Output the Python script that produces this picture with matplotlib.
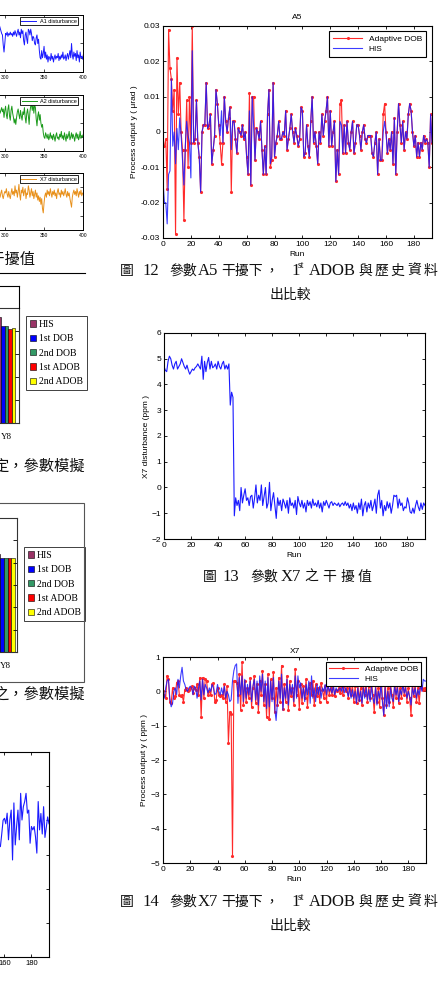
import numpy as np
import matplotlib
matplotlib.use('Agg')
import matplotlib.pyplot as plt
from matplotlib.lines import Line2D
from matplotlib.patches import Patch, Rectangle

plt.rcParams['font.family'] = ['Liberation Sans', 'Noto Sans CJK TC']
SERIF = ['Liberation Serif', 'Noto Sans CJK TC']

# ---- data -------------------------------------------------------------
# Fig 12: A5 disturbance, process output (x1e-3 urad)
a5_adob = [
    -4, -4, -2, -16, 29, 18, 15, 6, 12, -29,
    21, 5, 14, 0, -5, -25, -5, 9, -10, 10,
    -3, 30, -3, -2, 9, -3, -7, -17, 0, 2,
    2, 14, 1, 2, 5, -9, -5, -1, 12, 8,
    2, -3, -9, -3, 10, 3, 0, 4, 7, -17,
    3, 3, -2, -6, 1, 0, -1, 2, -2, 0,
    -7, -12, 11, -15, 10, 10, -8, 1, 0, -2,
    3, -5, -12, -4, -12, 5, 12, -10, -8, 14,
    -7, -3, -1, 3, -2, -2, 0, -1, 6, -5,
    -2, 1, 5, 0, -3, 1, -1, -4, -2, 7,
    6, -7, -6, 2, -4, -7, 3, 10, -3, 0,
    -4, -9, 0, -3, 5, -1, 3, 6, 10, -4,
    6, -4, 0, 3, -14, -5, -12, 8, 9, -6,
    2, -6, 3, -3, -5, 0, 3, -6, -3, 2,
    2, -1, -5, 0, 2, -2, -3, -1, -1, -1,
    -6, -7, -3, 0, -12, -2, -8, -8, 5, 8,
    0, -6, -2, -5, 0, -9, 4, -12, 0, 8,
    2, -3, 3, -5, 0, -2, 5, 8, 6, 0,
    -4, -1, -7, -3, -7, -3, -5, -1, -3, -2,
    -3, -10, 5, -3]
a5_his = [
    -14, -20, -20, -26, -12, -11, 15, -4, 0, -9,
    1, -5, 4, -1, -8, -15, -4, 3, -1, -3,
    -13, 23, -3, -2, 9, -3, -7, -17, 0, 2,
    2, 14, 1, 2, 5, -9, -5, -1, 12, 8,
    2, -1, 6, -3, 10, 3, 0, 4, 7, -5,
    3, 3, -2, -6, 1, 0, -1, 2, -2, 0,
    -7, -12, 6, -15, 10, 2, -8, 1, 0, -2,
    3, -5, -12, -4, -12, 5, 12, -9, -7, 14,
    -7, -3, -1, 3, -2, -2, 0, -1, 6, -5,
    -2, 1, 5, 0, -3, 1, -1, -4, -2, 7,
    6, -7, -6, 2, -4, -7, 3, 10, -3, 0,
    -4, -9, 0, -3, 5, -1, 3, 6, 10, -4,
    6, -4, 0, 3, -14, -5, -12, 3, 2, -6,
    2, -6, 3, -3, -5, 0, 3, -6, -3, 2,
    2, -1, -5, 0, 2, -2, -3, -1, -1, -1,
    -6, -7, -3, 0, -12, -2, -8, -8, 0, 3,
    0, -6, -2, -5, 0, -9, 4, -12, 0, 8,
    2, -3, 3, -5, 0, -2, 5, 8, 6, 0,
    -4, -1, -7, -3, -7, -3, -5, -1, -3, -2,
    -3, -10, 5, -3]

# Fig 13: X7 disturbance (ppm)
x7_dist = [
    4.7, 4.55, 4.5, 4.9, 5.1, 5.0, 4.75, 4.6, 4.8, 4.9,
    4.6, 4.7, 4.8, 5.0, 4.85, 4.7, 4.6, 4.75, 4.55, 4.4,
    4.5, 4.6, 4.55, 4.65, 4.7, 4.8, 4.7, 4.6, 5.1, 4.2,
    4.9, 4.5, 4.85, 5.05, 4.6, 4.9, 4.65, 4.7, 4.8, 4.6,
    4.9, 4.7, 4.6, 4.8, 4.9, 4.6, 4.75, 4.6, 4.8, 3.2,
    3.7, 3.5, -1.1, -0.4, -0.7, -0.5, -0.9, 0.0, -0.6, -0.3,
    -0.05, -0.5, -0.4, -0.7, -0.35, -0.3, -0.8, -0.4, 0.1, -0.6,
    -0.3, -0.5, 0.1, -0.7, -0.35, 0.0, -0.8, -0.6, 0.2, -0.9,
    -0.5, -0.2, -0.7, -1.2, -0.4, -0.7, -0.5, -0.9, -0.45, -0.6,
    -0.8, -0.5, -1.0, -0.4, -0.7, -0.6, -0.8, -0.5, -1.05, -0.35,
    -0.6, -0.75, -0.5, -0.8, -0.6, -0.95, -0.5, -0.7, -0.55, -0.8,
    -0.45, -0.7, -0.6, -0.75, -0.5, -0.8, -0.6, -0.95, -0.55, -0.7,
    -0.5, -0.65, -0.8, -0.6, -0.55, -0.7, -0.6, -0.65, -0.7, -0.6,
    -0.75, -0.65, -0.6, -0.7, -0.55, -0.7, -0.6, -0.8, -0.65, -0.9,
    -0.6, -0.85, -0.7, -1.0, -0.6, -0.85, -0.45, -1.1, -0.7, -0.55,
    -0.95, -0.6, -0.8, -0.5, -0.9, -0.7, -0.45, -1.0, -0.3, -0.1,
    -0.8, -0.5, -1.1, -0.7, -0.9, -0.55, -0.8, -0.6, -1.0, -0.7,
    -0.3, -0.35, -0.3, -0.8, -0.45, -0.7, -0.6, -0.9, -0.75, -0.8,
    -0.4, -0.6, -0.95, -1.0, -0.8, -1.0, -0.7, -0.5, -0.75, -0.9,
    -0.6, -0.85, -0.6, -0.7]

# Fig 14: X7 disturbance, process output (ppm)
x7_adob = [
    0.0, -0.1, -0.2, 0.45, 0.35, -0.3, -0.35, 0.1, -0.2, -0.15,
    0.25, 0.3, -0.1, -0.15, -0.1, -0.3, 0.05, 0.1, 0.0, 0.05,
    0.1, 0.15, -0.05, 0.1, 0.05, 0.2, -0.1, 0.4, -0.75, 0.4,
    -0.2, 0.35, 0.3, -0.1, 0.0, -0.1, 0.2, 0.25, -0.3, -0.25,
    0.1, -0.1, -0.15, -0.1, -0.2, 0.2, -0.3, 0.15, -1.5, -0.6,
    -0.65, -4.8, 0.3, 0.3, 0.25, -0.1, 0.5, -0.55, 0.85, -0.4,
    0.3, -0.3, 0.1, -0.2, 0.4, -0.45, 0.1, 0.45, -0.35, 0.2,
    -0.6, 0.3, -0.1, 0.6, -0.4, 0.2, -0.75, 0.5, -0.8, 0.35,
    -0.2, 0.55, -0.6, 0.1, -0.4, 0.4, -0.3, 0.75, -0.5, 0.2,
    -0.3, 0.45, -0.55, 0.3, -0.15, 0.1, -0.4, 0.65, -0.1, 0.3,
    -0.5, 0.2, -0.35, 0.15, -0.2, 0.35, -0.45, 0.1, 0.25, -0.1,
    0.3, -0.4, 0.2, -0.15, 0.1, -0.3, 0.25, 0.05, -0.2, 0.15,
    -0.3, 0.3, -0.1, 0.1, -0.1, 0.2, -0.15, 0.05, 0.0, 0.1,
    -0.05, 0.15, -0.1, 0.2, 0.0, 0.1, -0.2, 0.25, -0.1, 0.2,
    -0.3, 0.15, -0.35, 0.2, -0.25, 0.1, -0.4, 0.2, -0.1, 0.25,
    -0.3, 0.15, -0.2, 0.3, -0.1, -0.6, 0.2, -0.3, 0.1, -0.45,
    0.55, -0.2, -0.7, 0.3, -0.4, 0.1, -0.3, 0.2, -0.1, -0.45,
    0.3, -0.2, 0.25, -0.35, 0.1, -0.2, 0.3, -0.1, 0.2, -0.3,
    0.1, -0.2, -0.7, 0.3, -0.15, 0.2, -0.3, 0.1, -0.35, 0.15,
    0.1, 0.05, 0.1, 0.05]
x7_his = [
    -0.15, -0.2, 0.1, 0.3, 0.35, -0.2, -0.45, -0.35, 0.0, 0.1,
    -0.1, 0.35, 0.1, 0.45, 0.7, 0.3, 0.2, 0.05, 0.0, 0.1,
    0.15, 0.1, -0.1, 0.15, 0.1, -0.2, 0.1, 0.3, -0.25, 0.35,
    -0.1, 0.2, 0.1, -0.05, 0.1, 0.0, 0.2, 0.1, -0.1, -0.05,
    0.2, 0.0, -0.1, 0.1, -0.1, 0.15, -0.2, 0.0, -0.1, -0.3,
    -0.25, 0.3, 0.6, 0.75, 0.8, -0.35, 0.4, -0.1, 0.45, -0.3,
    0.35, -0.2, 0.2, -0.1, 0.3, -0.3, 0.15, 0.35, -0.25, 0.3,
    -0.4, 0.45, 0.0, 0.5, -0.3, 0.3, -0.5, 0.4, -0.45, 0.3,
    -0.3, 0.4, -0.5, -0.85, -0.3, 0.3, -0.2, 0.5, -0.55, 0.1,
    -0.2, 0.35, -0.4, 0.2, -0.1, 0.2, -0.3, 0.45, -0.2, 0.45,
    0.1, 0.25, -0.2, 0.1, -0.3, 0.2, -0.1, 0.3, -0.35, 0.45,
    -0.2, 0.1, -0.3, 0.2, -0.1, 0.15, -0.2, 0.1, 0.0, 0.2,
    -0.1, 0.2, 0.0, 0.1, -0.05, 0.15, -0.1, 0.1, 0.0, 0.05,
    0.1, 0.0, 0.15, -0.05, 0.1, 0.0, -0.15, 0.1, -0.2, 0.05,
    -0.2, 0.0, -0.35, 0.1, -0.3, 0.0, -0.35, 0.1, -0.2, 0.1,
    -0.25, 0.05, -0.3, 0.15, -0.2, -0.35, 0.1, -0.4, 0.0, -0.2,
    0.2, -0.3, -0.7, 0.1, -0.5, 0.0, -0.45, 0.1, -0.2, -0.3,
    0.15, -0.1, 0.1, -0.3, 0.05, -0.1, 0.2, -0.05, 0.1, -0.2,
    0.0, -0.15, -0.4, 0.1, -0.1, 0.1, -0.2, 0.05, -0.1, 0.2,
    0.0, 0.35, 0.3, 0.3]

# left column, small disturbance plots (runs 290..400)
dist_runs = np.arange(290, 401)
a1_dist = [
    3.0, 3.2, 3.4, 3.3, 3.1, 2.9, 2.7, 2.6, 1.9, 1.4,
    2.0, 2.7, 2.6, 2.8, 2.5, 2.7, 2.6, 2.8, 2.6, 2.7,
    2.5, 2.8, 2.6, 2.9, 2.7, 2.5, 2.8, 3.0, 2.6, 2.8,
    2.4, 3.0, 2.7, 2.9, 2.2, 1.9, 2.6, 2.8, 2.3, 2.0,
    3.0, 2.9, 2.6, 3.0, 2.7, 2.2, 2.5, 2.4, 2.0, 1.9,
    2.4, 2.6, 2.0, 2.3, 1.5, 1.0, 0.9, 1.5, 1.0, 1.3,
    1.8, 1.0, 1.4, 0.9, 1.2, 0.7, 1.1, 1.0, 0.8, 1.3,
    0.9, 1.1, 0.7, 1.0, 1.2, 0.9, 1.1, 1.0, 1.3, 0.8,
    1.1, 0.9, 1.2, 1.0, 1.4, 0.9, 1.0, 1.2, 0.8, 1.1,
    1.3, 0.9, 1.2, 1.5, 1.0, 2.0, 1.2, 0.9, 1.4, 1.1,
    1.3, 0.8, 1.5, 1.0, 1.2, 0.7, 1.4, 1.0, 1.1, 0.9,
    1.2]
a2_dist = [
    2.8, 2.9, 2.6, 3.0, 2.7, 2.9, 3.1, 2.8, 3.0, 2.4,
    2.9, 3.2, 2.6, 2.3, 3.0, 3.3, 2.5, 2.2, 2.9, 3.2,
    2.7, 2.4, 2.0, 2.3, 1.9, 2.4, 2.8, 3.0, 2.6, 2.3,
    2.9, 2.5, 2.2, 2.8, 2.6, 3.1, 2.4, 2.0, 2.7, 3.0,
    2.5, 1.9, 2.8, 3.2, 3.3, 2.9, 3.4, 2.7, 3.3, 3.1,
    2.3, 1.8, 2.5, 2.8, 2.2, 2.6, 2.0, 1.7, 1.9, 1.3,
    1.0, 0.9, 1.3, 1.1, 0.9, 1.2, 0.8, 1.0, 1.3, 0.9,
    1.1, 0.8, 1.2, 1.0, 0.7, 1.1, 1.3, 0.9, 1.0, 0.8,
    1.2, 1.0, 1.4, 0.9, 1.1, 0.8, 1.3, 1.0, 0.7, 1.2,
    0.9, 1.1, 1.4, 0.8, 1.0, 1.3, 0.9, 1.2, 1.0, 0.7,
    1.1, 1.3, 0.9, 1.2, 0.8, 1.0, 1.4, 0.9, 1.1, 1.0,
    1.2]
x7_dist_left = [
    2.6, 2.4, 2.7, 2.5, 2.3, 2.6, 2.8, 2.4, 2.2, 2.5,
    2.7, 2.6, 2.9, 2.5, 2.3, 2.7, 2.4, 2.2, 2.6, 2.9,
    2.5, 2.7, 2.4, 3.1, 2.6, 2.8, 2.3, 2.7, 3.2, 2.5,
    2.1, 2.8, 2.6, 3.0, 2.4, 2.7, 2.9, 2.2, 2.6, 2.5,
    3.1, 2.8, 2.3, 2.6, 2.9, 2.4, 2.7, 2.2, 2.5, 2.8,
    2.3, 2.6, 2.1, 2.4, 2.0, 2.3, 1.8, 2.2, 1.5, 1.2,
    1.9, 2.4, 2.6, 2.3, 2.8, 2.5, 2.7, 2.4, 2.9, 2.6,
    2.3, 2.7, 2.5, 2.8, 2.4, 2.6, 2.2, 2.7, 2.9, 2.5,
    2.6, 2.3, 2.8, 2.5, 2.7, 2.4, 2.6, 2.9, 2.5, 2.3,
    2.7, 2.4, 2.6, 2.2, 1.9, 1.6, 2.3, 2.6, 2.8, 2.5,
    2.7, 2.4, 2.9, 2.6, 2.3, 2.7, 2.5, 2.8, 2.4, 2.6,
    2.5]

# left column, bottom line plot (runs 150..193)
bl_runs = np.arange(150, 194)
bl_vals = [
    0.6, 1.0, 0.4, 0.9, 0.5, 0.2, 0.25, 0.23, 0.6, 1.0,
    1.06, 0.9, 1.21, 0.43, 1.01, 1.3, -0.16, 1.51, 0.28, 0.82,
    1.3, 0.43, 1.79, 1.01, 1.4, 1.55, 1.79, 1.21, 1.3, 0.33,
    0.82, 0.72, 0.82, 0.52, 0.04, 1.55, 0.72, 1.2, 0.6, 1.4,
    0.5, 0.8, 1.1, 0.9]

# left column, bar charts (last category only is on the page)
bar_series = ['HIS', '1st DOB', '2nd DOB', '1st ADOB', '2nd ADOB']
bar_colors = ['#993366', '#0000ff', '#339966', '#ff0000', '#ffff00']
bar_cat = 'Y8'
bars_top = [4.6, 4.2, 4.2, 4.1, 4.15]
bars_mid = [4.4, 4.2, 4.2, 4.23, 4.2]

# ---- figure -----------------------------------------------------------
W, H = 441, 1005
fig = plt.figure(figsize=(W / 100, H / 100), dpi=100)
fig.patch.set_facecolor('white')


def fx(x):
    return x / W


def fy(y):
    return 1 - y / H


def px_axes(l, t, r, b):
    return fig.add_axes([l / W, 1 - b / H, (r - l) / W, (b - t) / H])


def matlab_style(ax, size=6):
    ax.tick_params(direction='in', top=True, right=True, length=2.5,
                   width=0.6, labelsize=size, pad=2)
    for s in ax.spines.values():
        s.set_linewidth(0.8)


def put(x, y, s, size=10, ha='left', family=SERIF):
    fig.text(fx(x), fy(y), s, fontsize=size, ha=ha, va='center',
             family=family, color='#111111')


def put_spaced(x, y, s, step, size=10):
    for i, ch in enumerate(s):
        put(x + i * step, y, ch, size=size)


def fig_line(xs, ys, **kw):
    fig.add_artist(Line2D([fx(v) for v in xs], [fy(v) for v in ys],
                          color='black', lw=0.8, **kw))


def caption(y, num, var):
    # 圖 N 參數XX干擾下，1st ADOB與歷史資料輸 / 出比較
    put(120, y, '圖')
    put(142, y, num, size=12)
    put(169, y, '參數')
    put(198, y, var, size=12)
    put(221, y, '干擾下')
    put(264, y, '，')
    put(291, y, '1', size=12)
    put(297.5, y - 5, 'st', size=7)
    put(309, y, 'ADOB', size=12)
    put_spaced(358, y, '與歷史資料輸', 16.4)
    put(290, y + 24, '出比較', ha='center')


RED = '#ff2a2a'
BLUE = '#1a1aff'

# Fig 12 -- A5
ax = px_axes(163, 26, 432, 238)
runs = np.arange(len(a5_his))
ax.plot(runs, np.array(a5_adob) * 1e-3, color=RED, lw=0.8, marker='.',
        ms=2.5, label='Adaptive DOB')
ax.plot(runs, np.array(a5_his) * 1e-3, color=BLUE, lw=0.8, alpha=0.85,
        label='HIS')
ax.set_xlim(0, 193)
ax.set_ylim(-0.03, 0.03)
ax.set_xticks(range(0, 181, 20))
ax.set_yticks([-0.03, -0.02, -0.01, 0, 0.01, 0.02, 0.03])
ax.set_yticklabels(['-0.03', '-0.02', '-0.01', '0', '0.01', '0.02', '0.03'])
matlab_style(ax)
ax.set_title('A5', fontsize=6, pad=5)
ax.set_xlabel('Run', fontsize=6, labelpad=2)
ax.set_ylabel('Process output y ( μrad )', fontsize=6, labelpad=2)
leg = ax.legend(loc='upper right', bbox_to_anchor=(fx(426), fy(31)),
                bbox_transform=fig.transFigure, borderaxespad=0, fontsize=6,
                fancybox=False, edgecolor='black', framealpha=1,
                handlelength=3.5, borderpad=0.45, labelspacing=0.35)
leg.get_frame().set_linewidth(0.8)

caption(271, '12', 'A5')

# Fig 13 -- X7 disturbance
ax = px_axes(164, 333, 425, 539)
ax.plot(np.arange(len(x7_dist)), x7_dist, color=BLUE, lw=0.8)
ax.set_xlim(0, 193)
ax.set_ylim(-2, 6)
ax.set_xticks(range(0, 181, 20))
ax.set_yticks(range(-2, 7))
matlab_style(ax)
ax.set_xlabel('Run', fontsize=6, labelpad=2)
ax.set_ylabel('X7 disturbance (ppm )', fontsize=6, labelpad=1)

put(203, 577, '圖')
put(222, 577, '13', size=12)
put(250, 577, '參數')
put(281, 577, 'X7', size=12)
put(304, 577, '之')
put_spaced(322, 577, '干擾值', 18)

# Fig 14 -- X7
ax = px_axes(163, 657, 426, 863)
runs = np.arange(len(x7_his))
ax.plot(runs, x7_adob, color=RED, lw=0.8, marker='.', ms=2.5,
        label='Adaptive DOB')
ax.plot(runs, x7_his, color=BLUE, lw=0.8, alpha=0.85, label='HIS')
ax.set_xlim(0, 193)
ax.set_ylim(-5, 1)
ax.set_xticks(range(0, 181, 20))
ax.set_yticks(range(-5, 2))
matlab_style(ax)
ax.set_title('X7', fontsize=6, pad=3)
ax.set_xlabel('Run', fontsize=6, labelpad=2)
ax.set_ylabel('Process output y ( ppm )', fontsize=6, labelpad=2)
leg = ax.legend(loc='upper right', bbox_to_anchor=(fx(421), fy(662)),
                bbox_transform=fig.transFigure, borderaxespad=0, fontsize=6,
                fancybox=False, edgecolor='black', framealpha=1,
                handlelength=3.5, borderpad=0.35, labelspacing=0.25)
leg.get_frame().set_linewidth(0.8)

caption(902, '14', 'X7')

# ---- left column: small disturbance plots ----------------------------
small = [(15, 72, a1_dist, '#1a1aff', 'A1 disturbance'),
         (95, 151, a2_dist, '#1a9a1a', 'A2 disturbance'),
         (173, 230, x7_dist_left, '#e8901a', 'X7 disturbance')]
for top, bot, vals, col, lab in small:
    ax = px_axes(-73.7, top, 83.3, bot)
    ax.plot(dist_runs, vals, color=col, lw=0.7, label=lab)
    ax.set_xlim(200, 400)
    ax.set_ylim(0, 4)
    ax.set_xticks([250, 300, 350, 400])
    ax.set_yticks([0, 1, 2, 3, 4])
    ax.tick_params(direction='in', top=True, right=True, length=2,
                   width=0.5, labelsize=3.6, pad=2)
    for s in ax.spines.values():
        s.set_linewidth(0.7)
    leg = ax.legend(loc='upper right', bbox_to_anchor=(fx(78.3), fy(top + 2)),
                    bbox_transform=fig.transFigure, borderaxespad=0,
                    fontsize=4, fancybox=False, edgecolor='black',
                    framealpha=1, handlelength=2.7, borderpad=0.3,
                    handletextpad=0.6)
    leg.get_frame().set_linewidth(0.6)

put(35, 260, '之干擾值', size=11, ha='right')
fig_line([0, 85], [273, 273])

# ---- left column: bar charts -----------------------------------------
def bar_panel(top, bot, right, center_px, bar_px, vals, ymax, leg_xy):
    ax = px_axes(-60, top, right, bot)
    offs = np.arange(len(vals)) - (len(vals) - 1) / 2
    ax.bar(offs, vals, width=1.0, color=bar_colors, edgecolor='black',
           linewidth=0.4)
    ax.set_xlim((-60 - center_px) / bar_px, (right - center_px) / bar_px)
    ax.set_ylim(0, ymax)
    ax.set_xticks([0])
    ax.set_xticklabels([bar_cat], family=SERIF, fontsize=6.5)
    ax.set_yticks(range(ymax + 1))
    ax.tick_params(axis='x', length=0, pad=7)
    ax.tick_params(axis='y', direction='in', right=True, left=False,
                   labelleft=False, length=3, width=0.6)
    for s in ax.spines.values():
        s.set_linewidth(0.8)
        s.set_color('#333333')
    handles = [Patch(facecolor=c, edgecolor='black', linewidth=0.4)
               for c in bar_colors]
    leg = ax.legend(handles, bar_series, loc='upper left',
                    bbox_to_anchor=(fx(leg_xy[0]), fy(leg_xy[1])),
                    bbox_transform=fig.transFigure, borderaxespad=0,
                    prop={'family': SERIF, 'size': 7}, handlelength=0.6,
                    handleheight=0.6, handletextpad=0.3, labelspacing=0.55,
                    borderpad=0.4, fancybox=False, edgecolor='#404040',
                    framealpha=1)
    leg.get_frame().set_linewidth(0.7)
    return ax


bar_panel(308, 423, 19, 6.65, 3.5, bars_top, 5, (26, 316))
fig_line([0, 19], [286, 286])
fig_line([19, 19], [286, 308])
put(85, 467, '定，參數模擬', size=11, ha='right')

bar_panel(518, 652, 17.3, 5.75, 3.7, bars_mid, 6, (24, 547))
fig.add_artist(Rectangle((fx(-5), fy(682)), fx(89), (682 - 503) / H,
                         fill=False, edgecolor='#555555', lw=0.8,
                         transform=fig.transFigure))
put(85, 695, '之，參數模擬', size=11, ha='right')

# ---- left column: bottom line plot -----------------------------------
ax = px_axes(-211.6, 752, 49, 957)
ax.plot(bl_runs, bl_vals, color=BLUE, lw=0.8)
ax.set_xlim(0, 193)
ax.set_ylim(-3, 3)
ax.set_xticks(range(0, 181, 20))
ax.set_yticks(range(-3, 4))
matlab_style(ax, size=5.5)

fig.savefig('out.png', dpi=100, facecolor='white')
